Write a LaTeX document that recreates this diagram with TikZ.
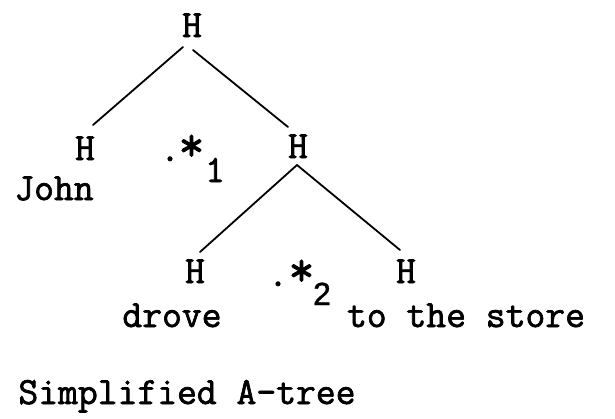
\documentclass[tikz,border=0pt]{standalone}
\usepackage{fontspec}
\setmonofont{Latin Modern Mono}[FakeBold=1.8]
\newfontfamily\digitfont{Liberation Sans}[FakeBold=1.2]
\usetikzlibrary{calc}
\begin{document}
\begin{tikzpicture}[x=1pt,y=-1pt,
  lab/.style={inner sep=0pt,anchor=base,font=\ttfamily\fontsize{38.5}{44}\selectfont},
  starmark/.style={lab,scale=1.3},
  edge/.style={line width=1.8pt,line cap=round}]
\useasboundingbox (0,0) rectangle (615,418);
% tree labels
\node[lab] (top) at (192,37) {H};
\node[lab] (hl)  at (85,160) {H};
\node[lab] (hr)  at (298,158) {H};
\node[lab] (bl)  at (195,283) {H};
\node[lab] (br)  at (406,283) {H};
% words
\node[lab] (john)  at (54,200) {John};
\node[lab] (drove) at (172,327) {drove};
\node[lab] (store) at (466,327) {to the store};
\node[lab] (title) at (187,404) {Simplified A-tree};
% markers between sisters
\node[lab] (dotA)  at (170,161) {.};
\node[starmark] (starA) at (191.5,161) {*};
\node[lab] (subA)  at (215,182) {1};
\node[lab] (dotB)  at (278,286) {.};
\node[starmark] (starB) at (301.5,286) {*};
\node[lab,font=\digitfont\fontsize{32}{38}\selectfont] (subB) at (322,305) {2};
% branches
\draw[edge] ($(top.base)+(-9,10)$) -- ($(hl.base)+(8,-35)$);
\draw[edge] ($(top.base)+(1,13)$) -- ($(hr.base)+(-10,-31)$);
\draw[edge] ($(hr.base)+(-1,7)$) -- ($(bl.base)+(5,-31)$);
\draw[edge] ($(hr.base)+(-1,7)$) -- ($(br.base)+(-6,-33)$);
\end{tikzpicture}
\end{document}
